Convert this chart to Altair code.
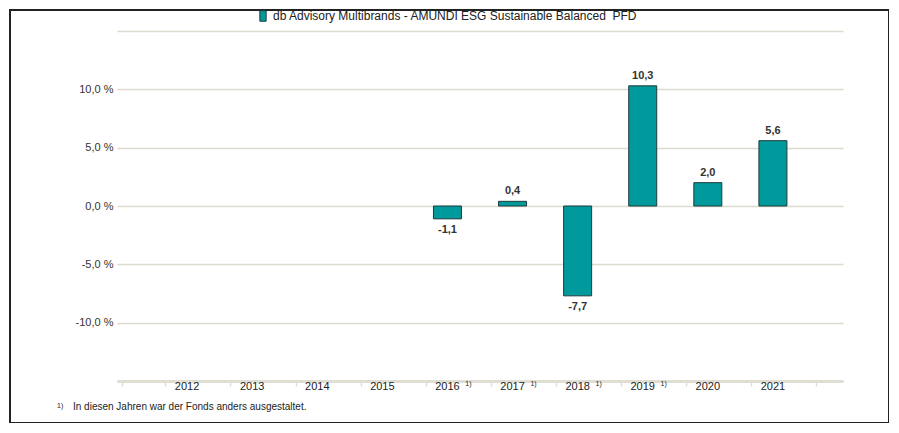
import altair as alt
import pandas as pd

# ---- data ----
years = [2016, 2017, 2018, 2019, 2020, 2021]
values = [-1.1, 0.4, -7.7, 10.3, 2.0, 5.6]
label_years = [2012, 2013, 2014, 2015, 2016, 2017, 2018, 2019, 2020, 2021]
footnote_years = [2016, 2017, 2018, 2019]
y_ticks = [-15, -10, -5, 0, 5, 10, 15]
series_name = "db Advisory Multibrands - AMUNDI ESG Sustainable Balanced\u00a0\u00a0PFD"
footnote_text = "In diesen Jahren war der Fonds anders ausgestaltet."

x_min, x_max = 2011, 2022
x_tick_vals = [x_min]
for k in range(x_min, x_max + 1):
    for d in (-1 / 3, 1 / 3):
        v = k + d
        if x_min < v < x_max:
            x_tick_vals.append(v)
x_tick_vals.append(x_max)

FONT = "Liberation Sans"
TEAL = "#009a9c"
EDGE = "#1f3b3b"
GRID = "#dcd9d0"
AXIS = "#e0ddd3"

df = pd.DataFrame({"year": years, "value": values, "series": [series_name] * len(years)})
df["label"] = [f"{v:.1f}".replace(".", ",") for v in values]
df_years = pd.DataFrame({"year": label_years, "y": [-15] * len(label_years), "label": [str(y) for y in label_years]})
df_fn = pd.DataFrame({"year": footnote_years, "y": [-15] * len(footnote_years)})
df_one = pd.DataFrame({"k": [0]})

x_scale = alt.Scale(domain=[x_min, x_max], nice=False, zero=False)
y_scale = alt.Scale(domain=[-15, 15], nice=False)

base = alt.Chart(df)

bars = base.mark_bar(width=28, stroke=EDGE, strokeWidth=1).encode(
    x=alt.X("year:Q", scale=x_scale, title=None,
            axis=alt.Axis(values=x_tick_vals, labels=False, grid=False, ticks=True,
                          tickSize=5, tickColor=AXIS, tickWidth=1.5,
                          domainColor=AXIS, domainWidth=3)),
    y=alt.Y("value:Q", scale=y_scale, title=None,
            axis=alt.Axis(values=y_ticks, domain=False, ticks=False, grid=True,
                          gridColor=GRID, gridWidth=1.5, labelPadding=4,
                          labelFont=FONT, labelFontSize=11, labelColor="#333333",
                          labelExpr="abs(datum.value) > 12 ? '' : replace(replace(format(datum.value, '.1f'), '.', ','), '\u2212', '-') + ' %'")),
    y2=alt.datum(0),
    color=alt.Color("series:N", scale=alt.Scale(range=[TEAL]),
                    legend=alt.Legend(title=None, orient="none", legendX=140, legendY=-21,
                                      symbolType="M-0.6,-1H0.6V1H-0.6Z", symbolSize=110,
                                      symbolStrokeColor=EDGE, symbolStrokeWidth=1,
                                      symbolOpacity=1, labelFont=FONT, labelFontSize=12,
                                      labelColor="#222222", labelLimit=600)),
)

pos_labels = base.transform_filter("datum.value >= 0").mark_text(
    baseline="bottom", dy=-5, font=FONT, fontSize=11, fontWeight="bold", color="#333333"
).encode(x="year:Q", y="value:Q", text="label:N")

neg_labels = base.transform_filter("datum.value < 0").mark_text(
    baseline="top", dy=5, font=FONT, fontSize=11, fontWeight="bold", color="#333333"
).encode(x="year:Q", y="value:Q", text="label:N")

year_labels = alt.Chart(df_years).mark_text(
    baseline="middle", dy=6, font=FONT, fontSize=11, color="#222222"
).encode(x="year:Q", y="y:Q", text="label:N")

fn_marks = alt.Chart(df_fn).mark_text(
    baseline="middle", dx=21, dy=3, font=FONT, fontSize=7, color="#222222"
).encode(x="year:Q", y="y:Q", text=alt.value("1)"))

foot_sup = alt.Chart(df_one).mark_text(
    align="left", baseline="middle", font=FONT, fontSize=7, color="#222222"
).encode(x=alt.value(-60), y=alt.value(375), text=alt.value("1)"))

foot_text = alt.Chart(df_one).mark_text(
    align="left", baseline="middle", font=FONT, fontSize=10, color="#222222"
).encode(x=alt.value(-44), y=alt.value(376), text=alt.value(footnote_text))

frame = alt.Chart(df_one).mark_rect(fill=None, stroke="#222222", strokeWidth=2).encode(
    x=alt.value(-107), x2=alt.value(772), y=alt.value(-21), y2=alt.value(392)
)

chart = alt.layer(frame, bars, pos_labels, neg_labels, year_labels, fn_marks, foot_sup, foot_text).properties(
    width=726, height=350,
    autosize=alt.AutoSizeParams(type="none"),
    padding={"left": 109, "top": 23, "right": 46, "bottom": 42},
).configure(background="white").configure_view(stroke=None)

chart.save("out.html", embed_options={"renderer": "svg", "actions": False})
